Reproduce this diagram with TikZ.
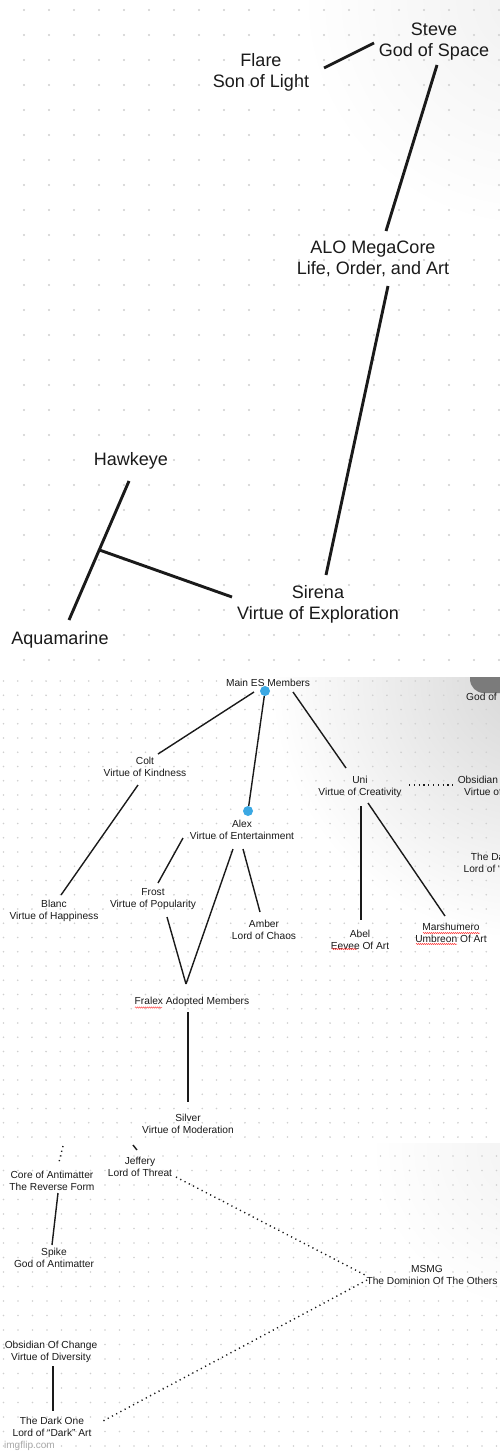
\documentclass[tikz,border=0pt]{standalone}
\usepackage{fontspec}
\setmainfont{Liberation Sans}
\usetikzlibrary{calc,decorations.pathmorphing}
\definecolor{dotgray}{HTML}{CFCFCF}
\definecolor{skyblue}{HTML}{3BA8E3}
\definecolor{blobgray}{HTML}{7B7B7B}
\definecolor{ink}{HTML}{1A1A1A}
\definecolor{wmark}{HTML}{A8A8A8}
\begin{document}
\begin{tikzpicture}[x=1pt,y=-1pt,
  bigtxt/.style={align=center,inner sep=0pt,font=\fontsize{18}{21}\selectfont,text=ink},
  smalltxt/.style={align=center,inner sep=0pt,font=\fontsize{10.2}{12}\selectfont,text=ink},
  thickline/.style={line width=2.9pt,draw=ink},
  thinline/.style={line width=1.4pt,draw=ink},
  dotline/.style={line width=1.4pt,draw=ink,dash pattern=on 1.2pt off 3.6pt},
  squiggle/.style={draw=red!75,line width=0.5pt,decorate,decoration={snake,amplitude=0.6pt,segment length=2pt}},
  bluedot/.style={circle,fill=skyblue,inner sep=0pt,minimum size=10pt}
]
\useasboundingbox (0,0) rectangle (500,1455);
\clip (0,0) rectangle (500,1455);
\fill[white] (0,0) rectangle (500,1455);
% ---------- panel backgrounds ----------
\begin{scope}
  \clip (0,0) rectangle (500,672);
  \shade[inner color=gray!11, outer color=white] (530,0) circle (230);
  \foreach \x in {24,49,...,499} \foreach \y in {10,35,...,660} \fill[dotgray] (\x,\y) circle (1.1);
\end{scope}
\begin{scope}
  \clip (0,677) rectangle (500,1143);
  \shade[inner color=gray!32, outer color=white] (530,680) circle (260);
  \foreach \x in {3.5,17.7,...,500} \foreach \y in {681,695.25,...,1140} \fill[dotgray] (\x,\y) circle (0.9);
  \fill[blobgray, rounded corners=14pt] (470,650) rectangle (540,693);
\end{scope}
\begin{scope}
  \clip (0,1143) rectangle (500,1455);
  \shade[inner color=gray!10, outer color=white] (530,1150) circle (160);
  \foreach \x in {3.5,18,...,500} \foreach \y in {1156,1170.5,...,1450} \fill[dotgray] (\x,\y) circle (0.9);
\end{scope}
% ---------- top panel ----------
\node[bigtxt] (flare) at (261,72) {Flare\\Son of Light};
\node[bigtxt] (steve) at (434,41.5) {Steve\\God of Space};
\node[bigtxt] (alo) at (373,258.5) {ALO MegaCore\\Life, Order, and Art};
\node[bigtxt] (hawkeye) at (131,461) {Hawkeye};
\node[bigtxt] (sirena) at (318,604.5) {Sirena\\Virtue of Exploration};
\node[bigtxt] (aqua) at (60,640) {Aquamarine};
\draw[thickline] ($(flare)+(63,-4)$) -- ($(steve)+(-60,1.5)$);
\draw[thickline] ($(steve)+(3,23.5)$) -- ($(alo)+(13,-27.5)$);
\draw[thickline] ($(alo)+(15,27.5)$) -- ($(sirena)+(8,-29.5)$);
\coordinate (hk) at ($(hawkeye)+(-2,20)$);
\coordinate (aq) at ($(aqua)+(9,-20)$);
\draw[thickline] (hk) -- (aq);
\coordinate (junc) at ($(hk)!0.496!(aq)$);
\draw[thickline] (junc) -- ($(sirena)+(-86,-7.5)$);
% ---------- middle panel ----------
\node[smalltxt] (main) at (268,683) {Main ES Members};
\node[bluedot] (bdot1) at (265,691) {};
\node[bluedot] (bdot2) at (248,811) {};
\node[smalltxt] (colt) at (145,767) {Colt\\Virtue of Kindness};
\node[smalltxt] (uni) at (360,787) {Uni\\Virtue of Creativity};
\node[smalltxt] (obs1) at (504,787) {Obsidian Of Change\\Virtue of Diversity};
\node[smalltxt,anchor=west] (godof) at (466,698) {God of Space};
\node[smalltxt] (dark1) at (503,863) {The Dark One\\Lord of ``Dark'' Art};
\node[smalltxt] (alex) at (242,830) {Alex\\Virtue of Entertainment};
\node[smalltxt] (frost) at (153,899) {Frost\\Virtue of Popularity};
\node[smalltxt] (blanc) at (54,911) {Blanc\\Virtue of Happiness};
\node[smalltxt] (amber) at (264,930) {Amber\\Lord of Chaos};
\node[smalltxt] (abel) at (360,939.5) {Abel\\Eevee Of Art};
\node[smalltxt] (marsh) at (451,933) {Marshumero\\Umbreon Of Art};
\node[smalltxt] (fralex) at (192,1002) {Fralex Adopted Members};
\node[smalltxt] (silver) at (188,1124) {Silver\\Virtue of Moderation};
\draw[thinline] ($(main)+(-14,9)$) -- ($(colt)+(13,-13)$);
\draw[thinline] (bdot1) -- (bdot2);
\draw[thinline] ($(main)+(25,9)$) -- ($(uni)+(-14,-19)$);
\draw[thinline] ($(colt)+(-7,18)$) -- ($(blanc)+(7,-16)$);
\draw[thinline] ($(uni)+(1,19)$) -- ($(abel)+(1,-19.5)$);
\draw[thinline] ($(uni)+(8,16)$) -- ($(marsh)+(-6,-17)$);
\draw[dotline] ($(uni)+(49,-2)$) -- ($(obs1)+(-49,-2)$);
\draw[thinline] ($(alex)+(-59,8)$) -- ($(frost)+(5,-16)$);
\draw[thinline] ($(alex)+(-9,19)$) -- ($(fralex)+(-6,-18)$);
\draw[thinline] ($(alex)+(1,19)$) -- ($(amber)+(-4,-18)$);
\draw[thinline] ($(frost)+(14,18)$) -- ($(fralex)+(-6,-18)$);
\draw[thinline] ($(fralex)+(-4,10)$) -- ($(silver)+(0,-22)$);
\draw[squiggle] (135,1007.5) -- (162,1007.5);
\draw[squiggle] (332,949) -- (357,949);
\draw[squiggle] (423,933) -- (480,933);
\draw[squiggle] (416,944) -- (457,944);
% ---------- bottom panel ----------
\node[smalltxt] (jeffery) at (140,1167) {Jeffery\\Lord of Threat};
\node[smalltxt] (core) at (52,1181) {Core of Antimatter\\The Reverse Form};
\node[smalltxt] (spike) at (54,1258) {Spike\\God of Antimatter};
\node[smalltxt] (msmg) at (432,1274.5) {MSMG\hspace*{10pt}\\The Dominion Of The Others};
\node[smalltxt] (obs2) at (51,1352) {Obsidian Of Change\\Virtue of Diversity};
\node[smalltxt] (dark2) at (52,1427) {The Dark One\\Lord of ``Dark'' Art};
\node[anchor=west,inner sep=0pt,font=\fontsize{10}{12}\selectfont,text=wmark] (wm) at (4,1446) {imgflip.com};
\coordinate (jtop) at (133,1145);
\draw[thinline] (jtop) -- ($(jeffery)+(-3,-17)$);
\coordinate (ctop) at (63,1146);
\draw[dotline] (ctop) -- ($(core)+(7,-19)$);
\draw[thinline] ($(core)+(6,12)$) -- ($(spike)+(-2,-13)$);
\draw[dotline] ($(jeffery)+(36,10)$) -- ($(msmg)+(-65,1.5)$);
\draw[dotline] ($(msmg)+(-65,5.5)$) -- ($(dark2)+(51,-6)$);
\draw[thinline] ($(obs2)+(2,14)$) -- ($(dark2)+(1,-16)$);
\fill[ink] (4,1348) circle (0.7);
\end{tikzpicture}
\end{document}
